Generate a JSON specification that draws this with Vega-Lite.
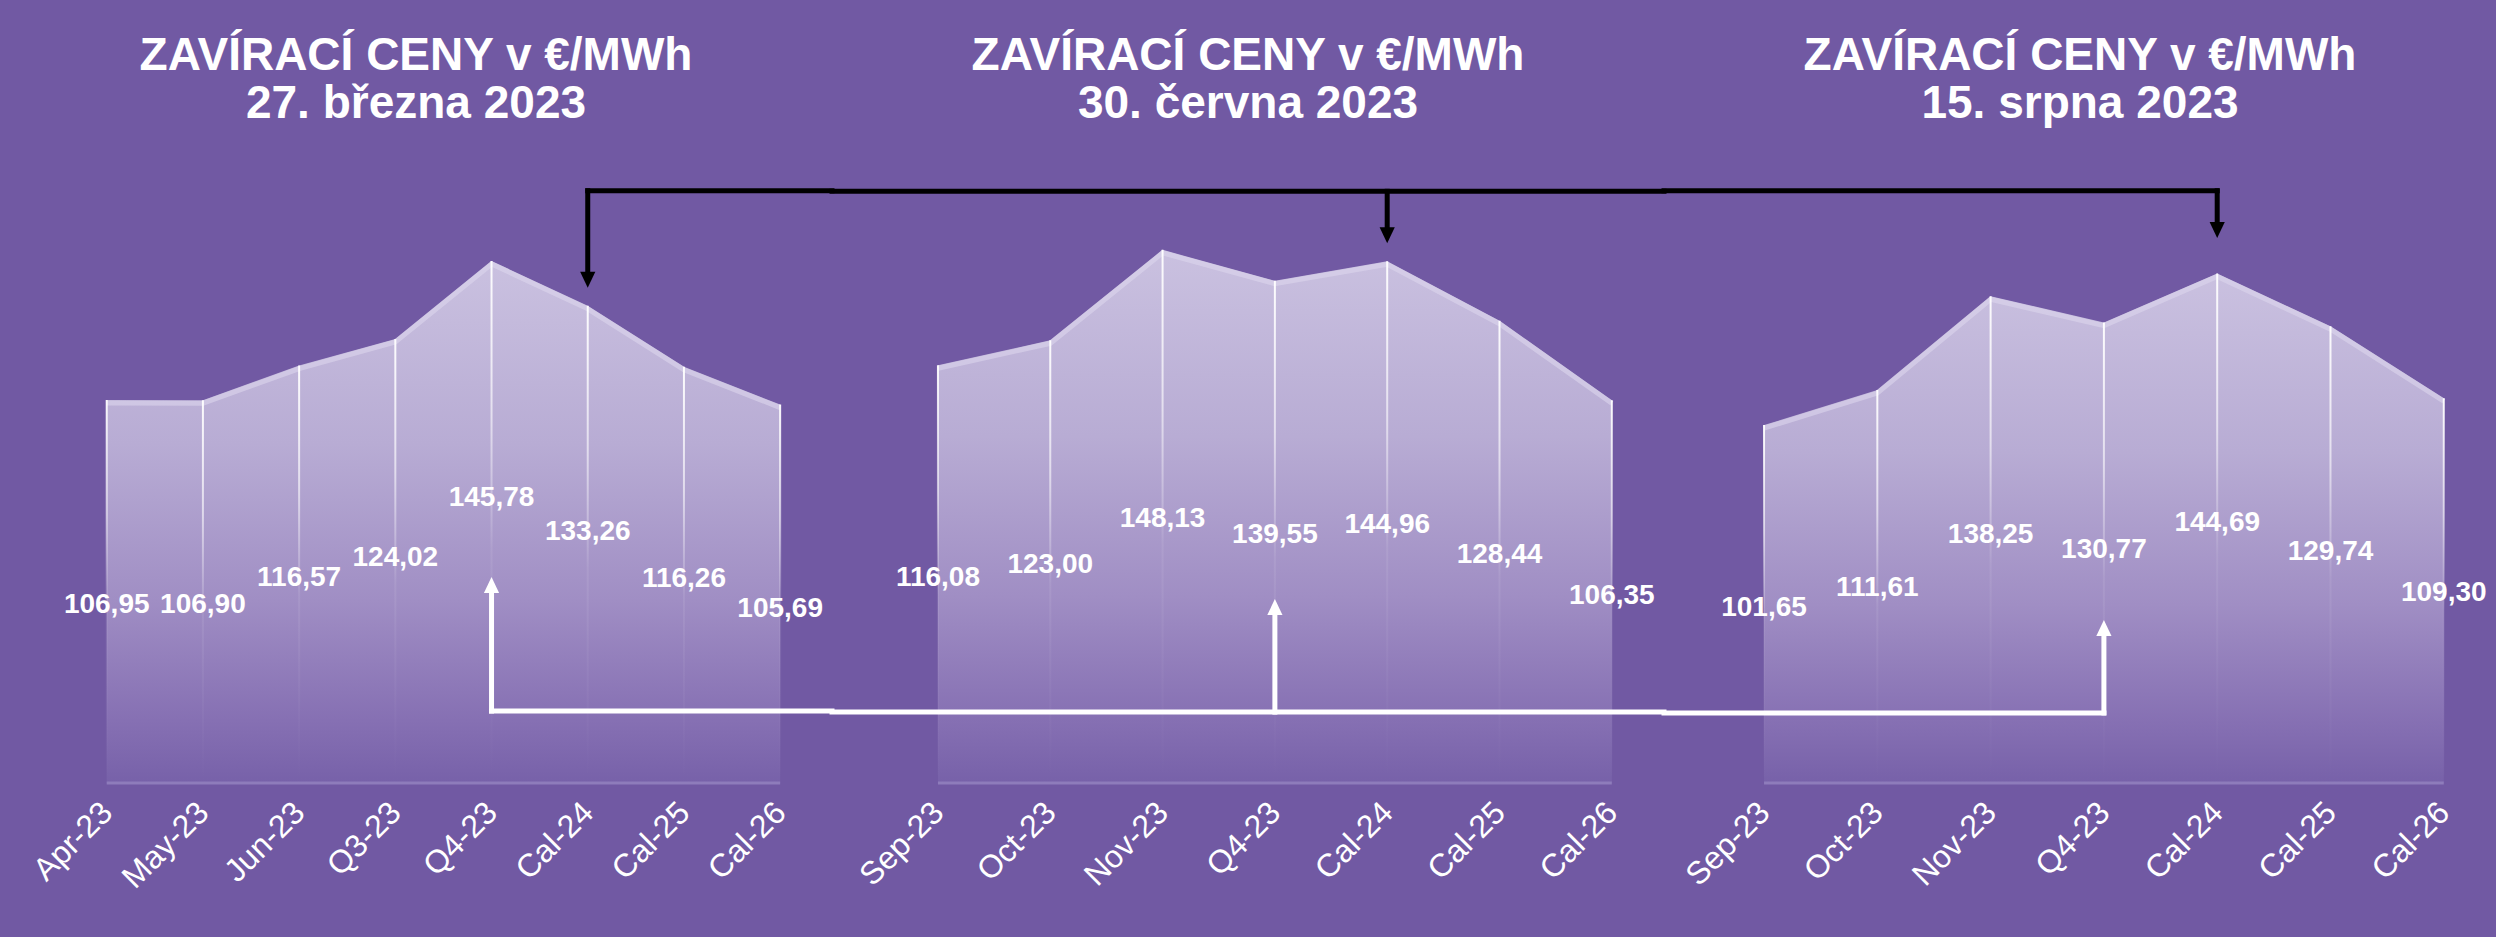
{
  "$schema": "https://vega.github.io/schema/vega-lite/v6.json",
  "padding": {"left": 0, "right": 0, "top": 33, "bottom": 50},
  "autosize": {"type": "pad"},
  "spacing": 0,
  "bounds": "flush",
  "config": {
    "background": "#7159A3",
    "view": {"stroke": null},
    "axis": {"domain": false, "ticks": false, "grid": false, "labelColor": "white", "labelFont": "Liberation Sans", "labelFontSize": 32, "labelAngle": -45, "labelAlign": "right", "labelBaseline": "middle", "labelPadding": 24, "title": null},
    "title": {"color": "white", "font": "Liberation Sans", "fontSize": 46, "fontWeight": "bold", "lineHeight": 48, "anchor": "middle", "offset": 23},
    "locale": {"number": {"decimal": ",", "thousands": " ", "grouping": [3], "currency": ["", " €"]}}
  },
  "hconcat": [
    {
      "width": 832, "height": 632,
      "title": {"text": ["ZAVÍRACÍ CENY v €/MWh", "27. března 2023"]},
      "resolve": {"scale": {"y": "independent"}},
      "layer": [
        {
          "data": {"values": [
            {"cat": "Apr-23", "v": 106.95}, {"cat": "May-23", "v": 106.90}, {"cat": "Jun-23", "v": 116.57}, {"cat": "Q3-23", "v": 124.02},
            {"cat": "Q4-23", "v": 145.78}, {"cat": "Cal-24", "v": 133.26}, {"cat": "Cal-25", "v": 116.26}, {"cat": "Cal-26", "v": 105.69}
          ]},
          "layer": [
            {"mark": {"type": "area", "fill": {"gradient": "linear", "x1": 0, "y1": 0, "x2": 0, "y2": 1, "stops": [{"offset": 0, "color": "#CAC1E0"}, {"offset": 0.35, "color": "#B8ACD4"}, {"offset": 0.65, "color": "#A08EC4"}, {"offset": 0.88, "color": "#8670B3"}, {"offset": 1, "color": "#7761A9"}]}},
             "encoding": {"x": {"field": "cat", "type": "nominal", "sort": null, "scale": {"type": "point", "domain": ["Apr-23", "May-23", "Jun-23", "Q3-23", "Q4-23", "Cal-24", "Cal-25", "Cal-26"], "padding": 0.824, "align": 0.673}, "axis": {"title": null}},
                          "y": {"field": "v", "type": "quantitative", "scale": {"domain": [0, 176.5], "zero": true, "nice": false}, "axis": null}}},
            {"mark": {"type": "line", "stroke": "#DCD5EC", "strokeWidth": 5, "opacity": 0.6, "yOffset": 3},
             "encoding": {"x": {"field": "cat", "type": "nominal", "sort": null}, "y": {"field": "v", "type": "quantitative", "scale": {"domain": [0, 176.5], "zero": true, "nice": false}, "axis": null}}},
            {"mark": {"type": "bar", "size": 2, "fill": {"gradient": "linear", "x1": 0, "y1": 0, "x2": 0, "y2": 1, "stops": [{"offset": 0, "color": "rgba(255,255,255,0.95)"}, {"offset": 0.3, "color": "rgba(255,255,255,0.6)"}, {"offset": 0.55, "color": "rgba(255,255,255,0.08)"}, {"offset": 1, "color": "rgba(255,255,255,0)"}]}},
             "encoding": {"x": {"field": "cat", "type": "nominal", "sort": null}, "y": {"field": "v", "type": "quantitative", "scale": {"domain": [0, 176.5], "zero": true, "nice": false}, "axis": null}}},
            {"mark": {"type": "line", "stroke": "#8E7CBB", "strokeWidth": 3},
             "encoding": {"x": {"field": "cat", "type": "nominal", "sort": null}, "y": {"datum": 0, "type": "quantitative", "scale": {"domain": [0, 176.5], "zero": true, "nice": false}, "axis": null}}}
          ]
        },
        {
          "data": {"values": [
            {"cat": "Cal-24", "kind": "b", "level": 165.4, "neck": 141.7, "tip": 138.3},
            {"cat": "Q4-23", "kind": "w", "level": 20.1, "neck": 54.1, "tip": 57.5}
          ]},
          "layer": [
            {"mark": {"type": "rule", "strokeWidth": 5, "strokeCap": "square"},
             "encoding": {"x": {"field": "cat", "type": "nominal", "sort": null}, "y": {"field": "level", "type": "quantitative", "scale": {"domain": [0, 176.5], "zero": true, "nice": false}, "axis": null}, "y2": {"field": "neck"},
                          "color": {"field": "kind", "type": "nominal", "scale": {"domain": ["b", "w"], "range": ["#000000", "#FFFFFF"]}, "legend": null}}},
            {"mark": {"type": "rule", "strokeWidth": 5, "strokeCap": "square"},
             "encoding": {"x": {"field": "cat", "type": "nominal", "sort": null}, "x2": {"value": "width"}, "y": {"field": "level", "type": "quantitative", "scale": {"domain": [0, 176.5], "zero": true, "nice": false}, "axis": null},
                          "color": {"field": "kind", "type": "nominal", "scale": {"domain": ["b", "w"], "range": ["#000000", "#FFFFFF"]}, "legend": null}}},
            {"mark": {"type": "point", "filled": true, "opacity": 1, "size": 256},
             "encoding": {"x": {"field": "cat", "type": "nominal", "sort": null}, "y": {"field": "tip", "type": "quantitative", "scale": {"domain": [0, 176.5], "zero": true, "nice": false}, "axis": null},
                          "shape": {"field": "kind", "type": "nominal", "scale": {"domain": ["b", "w"], "range": ["M-0.95,-2L0.95,-2L0,0Z", "M-0.95,2L0.95,2L0,0Z"]}, "legend": null},
                          "color": {"field": "kind", "type": "nominal", "scale": {"domain": ["b", "w"], "range": ["#000000", "#FFFFFF"]}, "legend": null}}}
          ]
        },
        {
          "data": {"values": [
            {"cat": "Apr-23", "v": 106.95}, {"cat": "May-23", "v": 106.90}, {"cat": "Jun-23", "v": 116.57}, {"cat": "Q3-23", "v": 124.02},
            {"cat": "Q4-23", "v": 145.78}, {"cat": "Cal-24", "v": 133.26}, {"cat": "Cal-25", "v": 116.26}, {"cat": "Cal-26", "v": 105.69}
          ]},
          "mark": {"type": "text", "font": "Liberation Sans", "fontWeight": "bold", "fontSize": 28, "color": "white", "baseline": "middle", "align": "center"},
          "encoding": {"x": {"field": "cat", "type": "nominal", "sort": null}, "y": {"field": "v", "type": "quantitative", "scale": {"domain": [42.7, 270.9], "zero": false, "nice": false}, "axis": null}, "text": {"field": "v", "type": "quantitative", "format": ".2f"}}
        }
      ]
    },
    {
      "width": 832, "height": 632,
      "title": {"text": ["ZAVÍRACÍ CENY v €/MWh", "30. června 2023"]},
      "resolve": {"scale": {"y": "independent"}},
      "layer": [
        {
          "data": {"values": [
            {"cat": "Sep-23", "v": 116.08}, {"cat": "Oct-23", "v": 123.00}, {"cat": "Nov-23", "v": 148.13}, {"cat": "Q4-23", "v": 139.55},
            {"cat": "Cal-24", "v": 144.96}, {"cat": "Cal-25", "v": 128.44}, {"cat": "Cal-26", "v": 106.35}
          ]},
          "layer": [
            {"mark": {"type": "area", "fill": {"gradient": "linear", "x1": 0, "y1": 0, "x2": 0, "y2": 1, "stops": [{"offset": 0, "color": "#CAC1E0"}, {"offset": 0.35, "color": "#B8ACD4"}, {"offset": 0.65, "color": "#A08EC4"}, {"offset": 0.88, "color": "#8670B3"}, {"offset": 1, "color": "#7761A9"}]}},
             "encoding": {"x": {"field": "cat", "type": "nominal", "sort": null, "scale": {"type": "point", "domain": ["Sep-23", "Oct-23", "Nov-23", "Q4-23", "Cal-24", "Cal-25", "Cal-26"], "padding": 0.704, "align": 0.67}, "axis": {"title": null}},
                          "y": {"field": "v", "type": "quantitative", "scale": {"domain": [0, 175.6], "zero": true, "nice": false}, "axis": null}}},
            {"mark": {"type": "line", "stroke": "#DCD5EC", "strokeWidth": 5, "opacity": 0.6, "yOffset": 3},
             "encoding": {"x": {"field": "cat", "type": "nominal", "sort": null}, "y": {"field": "v", "type": "quantitative", "scale": {"domain": [0, 175.6], "zero": true, "nice": false}, "axis": null}}},
            {"mark": {"type": "bar", "size": 2, "fill": {"gradient": "linear", "x1": 0, "y1": 0, "x2": 0, "y2": 1, "stops": [{"offset": 0, "color": "rgba(255,255,255,0.95)"}, {"offset": 0.3, "color": "rgba(255,255,255,0.6)"}, {"offset": 0.55, "color": "rgba(255,255,255,0.08)"}, {"offset": 1, "color": "rgba(255,255,255,0)"}]}},
             "encoding": {"x": {"field": "cat", "type": "nominal", "sort": null}, "y": {"field": "v", "type": "quantitative", "scale": {"domain": [0, 175.6], "zero": true, "nice": false}, "axis": null}}},
            {"mark": {"type": "line", "stroke": "#8E7CBB", "strokeWidth": 3},
             "encoding": {"x": {"field": "cat", "type": "nominal", "sort": null}, "y": {"datum": 0, "type": "quantitative", "scale": {"domain": [0, 175.6], "zero": true, "nice": false}, "axis": null}}}
          ]
        },
        {
          "data": {"values": [
            {"cat": "Cal-24", "kind": "b", "level": 164.4, "neck": 153.3, "tip": 150.0},
            {"cat": "Q4-23", "kind": "w", "level": 19.7, "neck": 47.8, "tip": 51.1}
          ]},
          "layer": [
            {"mark": {"type": "rule", "strokeWidth": 5, "strokeCap": "square"},
             "encoding": {"x": {"field": "cat", "type": "nominal", "sort": null}, "y": {"field": "level", "type": "quantitative", "scale": {"domain": [0, 175.6], "zero": true, "nice": false}, "axis": null}, "y2": {"field": "neck"},
                          "color": {"field": "kind", "type": "nominal", "scale": {"domain": ["b", "w"], "range": ["#000000", "#FFFFFF"]}, "legend": null}}},
            {"mark": {"type": "rule", "strokeWidth": 5, "strokeCap": "square"},
             "encoding": {"x": {"value": 0}, "x2": {"value": "width"}, "y": {"field": "level", "type": "quantitative", "scale": {"domain": [0, 175.6], "zero": true, "nice": false}, "axis": null},
                          "color": {"field": "kind", "type": "nominal", "scale": {"domain": ["b", "w"], "range": ["#000000", "#FFFFFF"]}, "legend": null}}},
            {"mark": {"type": "point", "filled": true, "opacity": 1, "size": 256},
             "encoding": {"x": {"field": "cat", "type": "nominal", "sort": null}, "y": {"field": "tip", "type": "quantitative", "scale": {"domain": [0, 175.6], "zero": true, "nice": false}, "axis": null},
                          "shape": {"field": "kind", "type": "nominal", "scale": {"domain": ["b", "w"], "range": ["M-0.95,-2L0.95,-2L0,0Z", "M-0.95,2L0.95,2L0,0Z"]}, "legend": null},
                          "color": {"field": "kind", "type": "nominal", "scale": {"domain": ["b", "w"], "range": ["#000000", "#FFFFFF"]}, "legend": null}}}
          ]
        },
        {
          "data": {"values": [
            {"cat": "Sep-23", "v": 116.08}, {"cat": "Oct-23", "v": 123.00}, {"cat": "Nov-23", "v": 148.13}, {"cat": "Q4-23", "v": 139.55},
            {"cat": "Cal-24", "v": 144.96}, {"cat": "Cal-25", "v": 128.44}, {"cat": "Cal-26", "v": 106.35}
          ]},
          "mark": {"type": "text", "font": "Liberation Sans", "fontWeight": "bold", "fontSize": 28, "color": "white", "baseline": "middle", "align": "center"},
          "encoding": {"x": {"field": "cat", "type": "nominal", "sort": null}, "y": {"field": "v", "type": "quantitative", "scale": {"domain": [4.6, 348.1], "zero": false, "nice": false}, "axis": null}, "text": {"field": "v", "type": "quantitative", "format": ".2f"}}
        }
      ]
    },
    {
      "width": 832, "height": 632,
      "title": {"text": ["ZAVÍRACÍ CENY v €/MWh", "15. srpna 2023"]},
      "resolve": {"scale": {"y": "independent"}},
      "layer": [
        {
          "data": {"values": [
            {"cat": "Sep-23", "v": 101.65}, {"cat": "Oct-23", "v": 111.61}, {"cat": "Nov-23", "v": 138.25}, {"cat": "Q4-23", "v": 130.77},
            {"cat": "Cal-24", "v": 144.69}, {"cat": "Cal-25", "v": 129.74}, {"cat": "Cal-26", "v": 109.30}
          ]},
          "layer": [
            {"mark": {"type": "area", "fill": {"gradient": "linear", "x1": 0, "y1": 0, "x2": 0, "y2": 1, "stops": [{"offset": 0, "color": "#CAC1E0"}, {"offset": 0.35, "color": "#B8ACD4"}, {"offset": 0.65, "color": "#A08EC4"}, {"offset": 0.88, "color": "#8670B3"}, {"offset": 1, "color": "#7761A9"}]}},
             "encoding": {"x": {"field": "cat", "type": "nominal", "sort": null, "scale": {"type": "point", "domain": ["Sep-23", "Oct-23", "Nov-23", "Q4-23", "Cal-24", "Cal-25", "Cal-26"], "padding": 0.672, "align": 0.657}, "axis": {"title": null}},
                          "y": {"field": "v", "type": "quantitative", "scale": {"domain": [0, 179.5], "zero": true, "nice": false}, "axis": null}}},
            {"mark": {"type": "line", "stroke": "#DCD5EC", "strokeWidth": 5, "opacity": 0.6, "yOffset": 3},
             "encoding": {"x": {"field": "cat", "type": "nominal", "sort": null}, "y": {"field": "v", "type": "quantitative", "scale": {"domain": [0, 179.5], "zero": true, "nice": false}, "axis": null}}},
            {"mark": {"type": "bar", "size": 2, "fill": {"gradient": "linear", "x1": 0, "y1": 0, "x2": 0, "y2": 1, "stops": [{"offset": 0, "color": "rgba(255,255,255,0.95)"}, {"offset": 0.3, "color": "rgba(255,255,255,0.6)"}, {"offset": 0.55, "color": "rgba(255,255,255,0.08)"}, {"offset": 1, "color": "rgba(255,255,255,0)"}]}},
             "encoding": {"x": {"field": "cat", "type": "nominal", "sort": null}, "y": {"field": "v", "type": "quantitative", "scale": {"domain": [0, 179.5], "zero": true, "nice": false}, "axis": null}}},
            {"mark": {"type": "line", "stroke": "#8E7CBB", "strokeWidth": 3},
             "encoding": {"x": {"field": "cat", "type": "nominal", "sort": null}, "y": {"datum": 0, "type": "quantitative", "scale": {"domain": [0, 179.5], "zero": true, "nice": false}, "axis": null}}}
          ]
        },
        {
          "data": {"values": [
            {"cat": "Cal-24", "kind": "b", "level": 168.2, "neck": 158.2, "tip": 154.8},
            {"cat": "Q4-23", "kind": "w", "level": 19.9, "neck": 42.9, "tip": 46.3}
          ]},
          "layer": [
            {"mark": {"type": "rule", "strokeWidth": 5, "strokeCap": "square"},
             "encoding": {"x": {"field": "cat", "type": "nominal", "sort": null}, "y": {"field": "level", "type": "quantitative", "scale": {"domain": [0, 179.5], "zero": true, "nice": false}, "axis": null}, "y2": {"field": "neck"},
                          "color": {"field": "kind", "type": "nominal", "scale": {"domain": ["b", "w"], "range": ["#000000", "#FFFFFF"]}, "legend": null}}},
            {"mark": {"type": "rule", "strokeWidth": 5, "strokeCap": "square"},
             "encoding": {"x": {"field": "cat", "type": "nominal", "sort": null}, "x2": {"value": 0}, "y": {"field": "level", "type": "quantitative", "scale": {"domain": [0, 179.5], "zero": true, "nice": false}, "axis": null},
                          "color": {"field": "kind", "type": "nominal", "scale": {"domain": ["b", "w"], "range": ["#000000", "#FFFFFF"]}, "legend": null}}},
            {"mark": {"type": "point", "filled": true, "opacity": 1, "size": 256},
             "encoding": {"x": {"field": "cat", "type": "nominal", "sort": null}, "y": {"field": "tip", "type": "quantitative", "scale": {"domain": [0, 179.5], "zero": true, "nice": false}, "axis": null},
                          "shape": {"field": "kind", "type": "nominal", "scale": {"domain": ["b", "w"], "range": ["M-0.95,-2L0.95,-2L0,0Z", "M-0.95,2L0.95,2L0,0Z"]}, "legend": null},
                          "color": {"field": "kind", "type": "nominal", "scale": {"domain": ["b", "w"], "range": ["#000000", "#FFFFFF"]}, "legend": null}}}
          ]
        },
        {
          "data": {"values": [
            {"cat": "Sep-23", "v": 101.65}, {"cat": "Oct-23", "v": 111.61}, {"cat": "Nov-23", "v": 138.25}, {"cat": "Q4-23", "v": 130.77},
            {"cat": "Cal-24", "v": 144.69}, {"cat": "Cal-25", "v": 129.74}, {"cat": "Cal-26", "v": 109.30}
          ]},
          "mark": {"type": "text", "font": "Liberation Sans", "fontWeight": "bold", "fontSize": 28, "color": "white", "baseline": "middle", "align": "center"},
          "encoding": {"x": {"field": "cat", "type": "nominal", "sort": null}, "y": {"field": "v", "type": "quantitative", "scale": {"domain": [13.2, 332.4], "zero": false, "nice": false}, "axis": null}, "text": {"field": "v", "type": "quantitative", "format": ".2f"}}
        }
      ]
    }
  ]
}
